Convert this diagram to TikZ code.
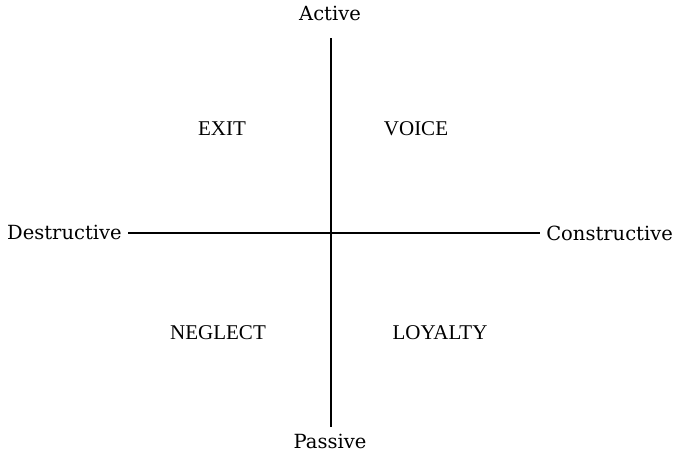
\documentclass[tikz,border=0pt]{standalone}
\usepackage{fontspec}
\setmainfont{Liberation Serif}
\newfontfamily\axisfont{DejaVu Serif}
\begin{document}
\begin{tikzpicture}[x=1pt,y=-1pt,
  axislabel/.style={font=\axisfont\fontsize{19.5}{21}\selectfont, inner sep=0pt},
  quadlabel/.style={font=\fontsize{21}{23}\selectfont, inner sep=0pt},
  axisline/.style={line width=1.8pt}]
\useasboundingbox (0,0) rectangle (676,453);
\node[axislabel] (active) at (330,13) {Active};
\node[axislabel] (passive) at (330,441) {Passive};
\node[axislabel, anchor=west] (destr) at (7,232) {Destructive};
\node[axislabel, anchor=east] (constr) at (673,233) {Constructive};
\coordinate (top) at (331,38);
\coordinate (bot) at (331,427);
\coordinate (left) at (128,233);
\coordinate (right) at (540,233);
\draw[axisline] (top) -- (bot);
\draw[axisline] (left) -- (right);
\node[quadlabel] (exit) at (222,129) {EXIT};
\node[quadlabel] (voice) at (416,129) {VOICE};
\node[quadlabel] (neglect) at (218,333) {NEGLECT};
\node[quadlabel] (loyalty) at (440,333) {LOYALTY};
\end{tikzpicture}
\end{document}
